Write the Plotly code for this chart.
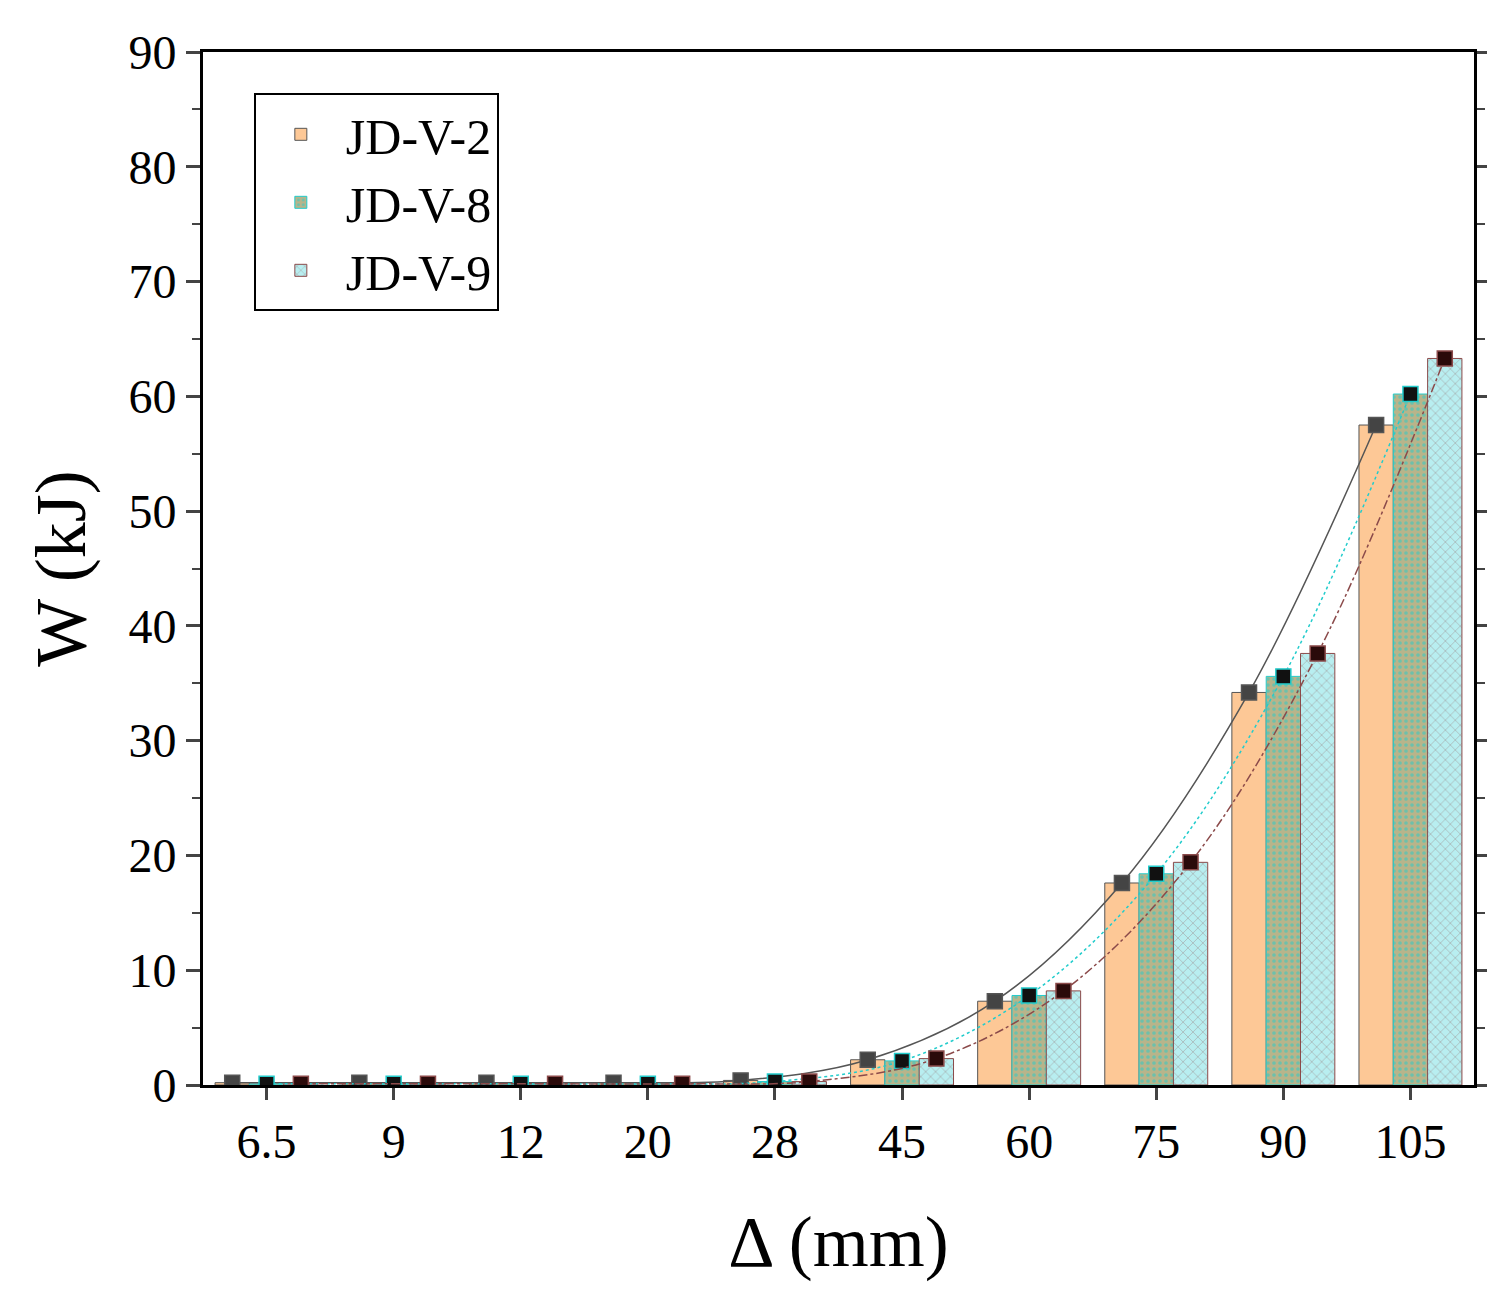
import plotly.graph_objects as go

categories = ["6.5", "9", "12", "20", "28", "45", "60", "75", "90", "105"]
jd_v_2 = [0.2, 0.2, 0.2, 0.2, 0.4, 2.2, 7.3, 17.6, 34.2, 57.5]
jd_v_8 = [0.1, 0.1, 0.1, 0.1, 0.3, 2.1, 7.8, 18.4, 35.6, 60.2]
jd_v_9 = [0.1, 0.1, 0.1, 0.1, 0.3, 2.3, 8.2, 19.4, 37.6, 63.3]

pos = list(range(len(categories)))
w = 0.27
font = "Liberation Serif"

series = [
    ("JD-V-2", jd_v_2, -w, dict(color="#fdc896", line=dict(color="#555", width=1)),
     "#555555", "solid", "#444444"),
    ("JD-V-8", jd_v_8, 0, dict(color="#b8b48a", line=dict(color="#22cccc", width=1),
                                pattern=dict(shape=".", fgcolor="#22cccc", bgcolor="#b8b48a", size=6, solidity=0.3)),
     "#22cccc", "dot", "#111111"),
    ("JD-V-9", jd_v_9, w, dict(color="#b8eef0", line=dict(color="#8b4a4a", width=1),
                                pattern=dict(shape="x", fgcolor="#8b4a4a", bgcolor="#b8eef0", size=7, solidity=0.15)),
     "#8b4a4a", "dashdot", "#2a0a0a"),
]

fig = go.Figure()
for name, vals, off, marker, lc, dash, mc in series:
    xs = [p + off for p in pos]
    fig.add_trace(go.Bar(x=xs, y=vals, width=w, name=name, marker=marker))
    fig.add_trace(go.Scatter(x=xs, y=vals, mode="lines+markers", showlegend=False,
                             line=dict(color=lc, dash=dash, width=1.5, shape="spline"),
                             marker=dict(symbol="square", size=15, color=mc,
                                         line=dict(color=lc, width=1.5))))

fig.update_layout(
    width=1495, height=1307, plot_bgcolor="white", paper_bgcolor="white",
    margin=dict(l=195, r=18, t=44, b=230),
    font=dict(family=font, size=48, color="black"),
    barmode="overlay",
    legend=dict(x=0.04, y=0.96, xanchor="left", yanchor="top", bgcolor="white",
                bordercolor="black", borderwidth=2, font=dict(size=50),
                itemwidth=80, tracegroupgap=0),
    showlegend=True,
)
fig.update_xaxes(range=[-0.5, len(categories) - 0.5], tickvals=pos, ticktext=categories,
                 showline=True, linecolor="black", linewidth=3, mirror=True,
                 ticks="outside", ticklen=12, tickwidth=3, showgrid=False,
                 title=dict(text="Δ (mm)", font=dict(size=72), standoff=50))
fig.update_yaxes(range=[0, 90], dtick=10, showline=True, linecolor="black", linewidth=3,
                 mirror="ticks", ticks="outside", ticklen=14, tickwidth=3, showgrid=False,
                 minor=dict(dtick=5, ticks="outside", ticklen=8, tickwidth=2),
                 zeroline=False, title=dict(text="W (kJ)", font=dict(size=72), standoff=20))
fig.write_html("out.html")
